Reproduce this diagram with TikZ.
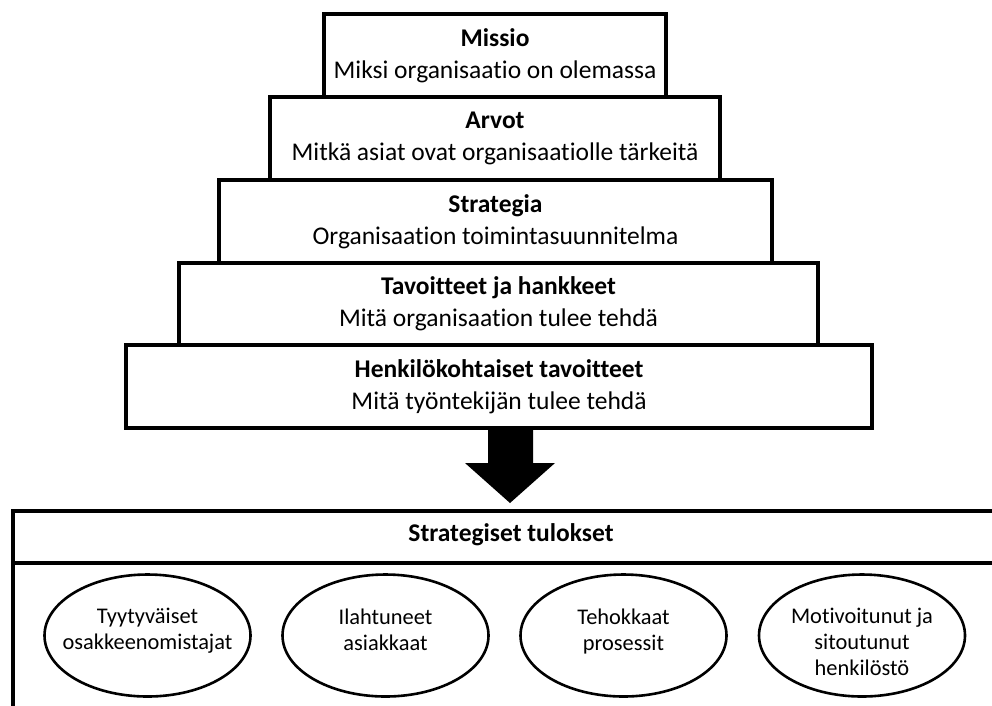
\documentclass[tikz,border=0pt]{standalone}
\usepackage{fontspec}
\setmainfont[Ligatures=NoCommon]{Carlito}
\usetikzlibrary{shapes.geometric}
\begin{document}
\begin{tikzpicture}[x=1pt,y=-1pt,
  level/.style={draw,line width=4pt,fill=white,inner sep=0pt,align=center,
    font=\fontsize{25.5}{32}\selectfont},
  goal/.style={draw,ellipse,line width=2.6pt,inner sep=0pt,
    minimum width=206pt,minimum height=122pt},
  goaltext/.style={align=center,font=\fontsize{22.4}{26}\selectfont},
  frame/.style={line width=4pt}]
\useasboundingbox (0,0) rectangle (992,705);
\clip (0,0) rectangle (992,705);

% Pyramid of levels, widest at the bottom
\node[level,minimum width=342pt,minimum height=83pt] (missio) at (495,55.5)
  {\textbf{Missio}\\Miksi organisaatio on olemassa};
\node[level,minimum width=450pt,minimum height=83pt] (arvot) at (495,138.5)
  {\textbf{Arvot}\\Mitkä asiat ovat organisaatiolle tärkeitä};
\node[level,minimum width=553pt,minimum height=83pt] (strategia) at (495.5,221.5)
  {\textbf{Strategia}\\Organisaation toimintasuunnitelma};
\node[level,minimum width=639pt,minimum height=82pt] (tavoitteet) at (498.5,304)
  {\textbf{Tavoitteet ja hankkeet}\\Mitä organisaation tulee tehdä};
\node[level,minimum width=746pt,minimum height=83pt] (henk) at (499,386.5)
  {\textbf{Henkilökohtaiset tavoitteet}\\Mitä työntekijän tulee tehdä};

% Block arrow down to the results
\coordinate (tip) at (510,503);
\fill (488,428) -- (488,463) -- (465,463) -- (tip) -- (555,463) -- (533,463) -- (533,428) -- cycle;

% Results frame, open to the right and bottom
\draw[frame] (13,720) -- (13,511) -- (1000,511);
\draw[frame] (13,563) -- (1000,563);
\node[font=\fontsize{25.5}{28}\selectfont\bfseries] (tulokset) at (511,535) {Strategiset tulokset};

% Strategic outcomes
\node[goal] (e1) at (147.5,635.5) {};
\node[goal] (e2) at (385.5,635.5) {};
\node[goal] (e3) at (623.5,635.5) {};
\node[goal] (e4) at (862,635.5) {};
\node[goaltext,anchor=north] (t1) at (147.5,605) {Tyytyväiset\\osakkeenomistajat};
\node[goaltext,anchor=north] (t2) at (385.5,605) {Ilahtuneet\\asiakkaat};
\node[goaltext,anchor=north] (t3) at (623.5,605) {Tehokkaat\\prosessit};
\node[goaltext,anchor=north] (t4) at (862,605) {Motivoitunut ja\\sitoutunut\\henkilöstö};
\end{tikzpicture}
\end{document}
